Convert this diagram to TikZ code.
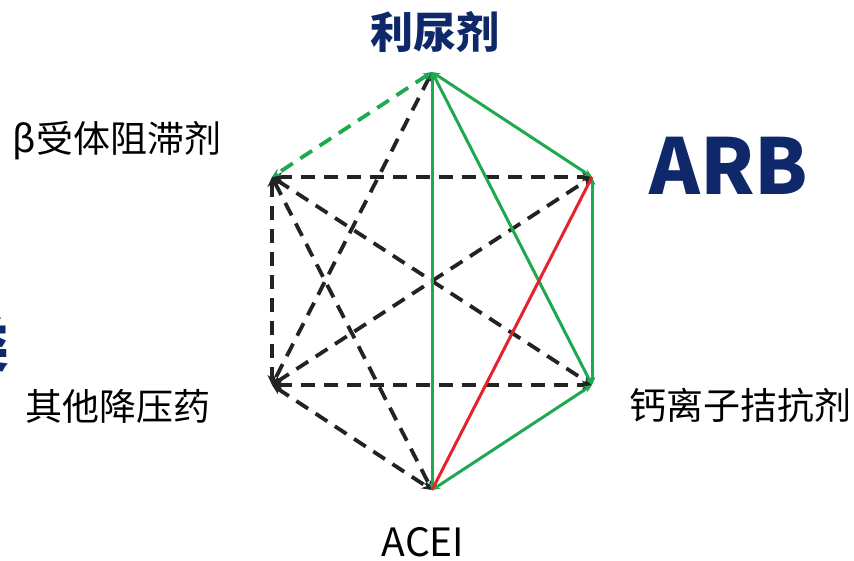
\documentclass[tikz,border=0pt]{standalone}
\usepackage{fontspec}
\setmainfont{Noto Sans CJK SC}
\usetikzlibrary{arrows.meta}
\definecolor{navy}{RGB}{14,40,105}
\definecolor{hgreen}{RGB}{30,168,80}
\definecolor{hred}{RGB}{228,35,45}
\definecolor{dgray}{RGB}{35,35,35}
\begin{document}
\begin{tikzpicture}[x=1pt,y=-1pt,
  blk/.style={draw=dgray,line width=3.8pt,dash pattern=on 14pt off 9pt,
    {Stealth[length=10pt,width=9pt]}-{Stealth[length=10pt,width=9pt]}},
  gdash/.style={draw=hgreen,line width=3.8pt,dash pattern=on 14pt off 9pt,
    {Stealth[length=9pt,width=8pt]}-{Stealth[length=9pt,width=8pt]}},
  gsolid/.style={draw=hgreen,line width=3pt,
    {Stealth[length=8pt,width=7pt]}-{Stealth[length=8pt,width=7pt]}},
  rsolid/.style={draw=hred,line width=3pt},
  lbl/.style={inner sep=0pt,text=black,font=\fontsize{37}{37}\selectfont},
  title/.style={inner sep=0pt,text=navy,font=\bfseries\fontsize{43}{43}\selectfont}]
\useasboundingbox (0,0) rectangle (854,561);
\clip (0,0) rectangle (854,561);
\coordinate (T) at (432,72);
\coordinate (UL) at (272,177);
\coordinate (UR) at (592,177);
\coordinate (LL) at (272,385);
\coordinate (LR) at (592,385);
\coordinate (B) at (432,490);
% black dashed
\draw[blk] (T) -- (LL);
\draw[blk] (UL) -- (UR);
\draw[blk] (UL) -- (LL);
\draw[blk] (UL) -- (LR);
\draw[blk] (UL) -- (B);
\draw[blk] (LL) -- (UR);
\draw[blk] (LL) -- (LR);
\draw[blk] (LL) -- (B);
% green
\draw[gdash] (T) -- (UL);
\draw[gsolid] (T) -- (UR);
\draw[gsolid] (T) -- (B);
\draw[gsolid] (T) -- (LR);
\draw[gsolid] (UR) -- (LR);
\draw[gsolid] (LR) -- (B);
% red
\draw[rsolid] (UR) -- (B);
% labels
\node[title] (diu) at (435,32) {利尿剂};
\node[lbl] (beta) at (117,141) {β受体阻滞剂};
\node[inner sep=0pt,text=navy,font=\bfseries\fontsize{77}{77}\selectfont] (arb) at (729,166) {ARB};
\node[lbl] (other) at (118,406) {其他降压药};
\node[lbl] (ccb) at (740,405) {钙离子拮抗剂};
\node[inner sep=0pt,text=black,font=\fontsize{39}{39}\selectfont] (acei) at (423,542) {ACEI};
\node[inner sep=0pt,text=navy,font=\bfseries\fontsize{60}{60}\selectfont,anchor=east] (cut) at (10,344) {类};
\end{tikzpicture}
\end{document}
